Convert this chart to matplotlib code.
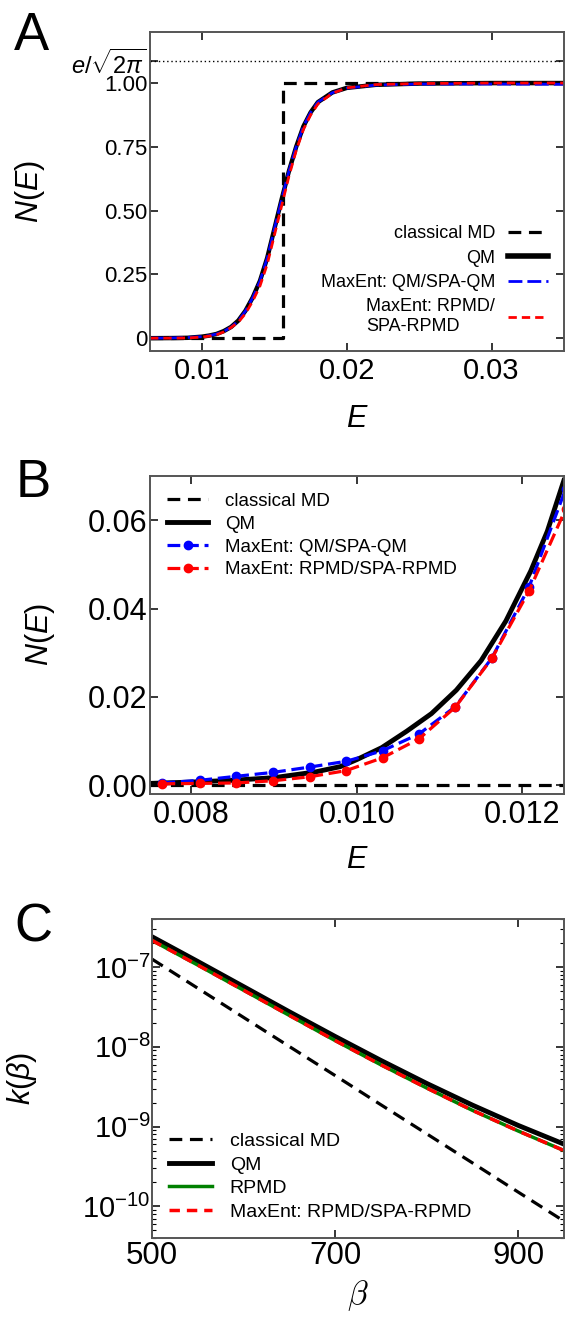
import matplotlib
matplotlib.use('Agg')
import numpy as np
import matplotlib.pyplot as plt
from matplotlib.lines import Line2D
from matplotlib.ticker import FixedLocator, FixedFormatter, LogLocator, NullFormatter

plt.rcParams['font.family'] = 'Liberation Sans'
plt.rcParams['mathtext.fontset'] = 'custom'
plt.rcParams['mathtext.rm'] = 'Liberation Sans'
plt.rcParams['mathtext.it'] = 'Liberation Sans:italic'
plt.rcParams['mathtext.bf'] = 'Liberation Sans:bold'

# ---- panel A : N(E) over the full range
E_A = [0.0064, 0.008, 0.009, 0.010, 0.0105, 0.011, 0.0115, 0.012, 0.0125, 0.013, 0.0135, 0.014,
       0.0145, 0.015, 0.0155, 0.016, 0.0165, 0.017, 0.0175, 0.018, 0.019, 0.020, 0.022, 0.025,
       0.030, 0.035]
qm_A = [0.0002, 0.0007, 0.0017, 0.0062, 0.0105, 0.0168, 0.028, 0.044, 0.069, 0.108, 0.16, 0.225,
        0.315, 0.43, 0.545, 0.655, 0.75, 0.83, 0.885, 0.925, 0.963, 0.981, 0.993, 0.998,
        1.0, 1.0]
maxent_qm_A = [0.0003, 0.0011, 0.0029, 0.0063, 0.0105, 0.0165, 0.027, 0.043, 0.068, 0.107, 0.159, 0.224,
               0.314, 0.43, 0.545, 0.655, 0.75, 0.83, 0.885, 0.925, 0.962, 0.980, 0.992, 0.996,
               0.996, 0.995]
maxent_rpmd_A = [0.0002, 0.0004, 0.001, 0.0045, 0.0085, 0.0135, 0.025, 0.042, 0.063, 0.097, 0.146, 0.205,
                 0.29, 0.405, 0.52, 0.635, 0.735, 0.818, 0.875, 0.918, 0.96, 0.981, 0.994, 0.998,
                 1.0, 1.0]
E_cl_A = [0.0064, 0.0156, 0.035]
cl_A = [0.0, 1.0, 1.0]
e_sqrt2pi = np.e / np.sqrt(2 * np.pi)

# ---- panel B : low-energy zoom
E_qm_B = [0.0075, 0.008, 0.0085, 0.009, 0.0095, 0.0098, 0.0100, 0.0103, 0.0106, 0.0109, 0.0112,
          0.0115, 0.0118, 0.0121, 0.0123, 0.0125]
qm_B = [0.0004, 0.0007, 0.0011, 0.0017, 0.003, 0.0042, 0.0058, 0.0085, 0.0122, 0.0162, 0.0215,
        0.0282, 0.0372, 0.0485, 0.0575, 0.069]
E_pts_B = [0.00765, 0.00810, 0.00854, 0.00899, 0.00943, 0.00987, 0.01031, 0.01075, 0.01119,
           0.01163, 0.01208, 0.01252]
maxent_qm_B = [0.0005, 0.0011, 0.0020, 0.0029, 0.0041, 0.0054, 0.0078, 0.0116, 0.0178, 0.0288,
               0.0449, 0.067]
maxent_rpmd_B = [0.0003, 0.0004, 0.0005, 0.0010, 0.0019, 0.0033, 0.0062, 0.0105, 0.0177, 0.0287,
                 0.0440, 0.0625]
E_cl_B = [0.0075, 0.0125]
cl_B = [0.0, 0.0]

# ---- panel C : rate constants
beta_C = [500, 550, 600, 650, 700, 750, 800, 850, 900, 950]
k_classical = [1.259e-7, 5.43e-8, 2.34e-8, 1.01e-8, 4.37e-9, 1.88e-9, 8.13e-10, 3.51e-10, 1.51e-10, 6.53e-11]
k_qm = [2.40e-7, 1.175e-7, 5.69e-8, 2.75e-8, 1.35e-8, 6.76e-9, 3.48e-9, 1.86e-9, 1.035e-9, 6.03e-10]
k_rpmd = [2.16e-7, 1.06e-7, 5.13e-8, 2.48e-8, 1.20e-8, 5.96e-9, 3.05e-9, 1.60e-9, 8.81e-10, 5.01e-10]
k_maxent_rpmd = [2.16e-7, 1.06e-7, 5.13e-8, 2.48e-8, 1.20e-8, 5.96e-9, 3.05e-9, 1.60e-9, 8.81e-10, 5.01e-10]

fig = plt.figure(figsize=(5.65, 13.22), dpi=100)
axA = fig.add_axes([0.2655, 0.7345, 0.7325, 0.2413])
axB = fig.add_axes([0.2655, 0.3994, 0.7325, 0.2405])
axC = fig.add_axes([0.2690, 0.0635, 0.7290, 0.2413])


def style(ax):
    for s in ax.spines.values():
        s.set_color('#555555')
        s.set_linewidth(1.4)
    ax.tick_params(which='both', direction='in', top=True, right=True, color='black')
    ax.tick_params(which='major', length=6, width=1.1)
    ax.tick_params(which='minor', length=3, width=0.8)


# panel A
axA.step(E_cl_A, cl_A, where='post', color='black', lw=2.3, ls=(0, (4, 2.4)))
axA.plot(E_A, qm_A, color='black', lw=3.2)
axA.plot(E_A, maxent_qm_A, color='blue', lw=2.0, ls=(0, (5, 1.8)))
axA.plot(E_A, maxent_rpmd_A, color='red', lw=2.0, ls=(0, (3, 1.8)))
axA.axhline(e_sqrt2pi, color='black', lw=1.0, ls=(0, (1, 2)))
axA.set_xlim(0.0064, 0.035)
axA.set_ylim(-0.05, 1.2)
style(axA)
axA.xaxis.set_major_locator(FixedLocator([0.01, 0.02, 0.03]))
axA.xaxis.set_major_formatter(FixedFormatter(['0.01', '0.02', '0.03']))
axA.yaxis.set_major_locator(FixedLocator([0, 0.25, 0.5, 0.75, 1.0, e_sqrt2pi]))
axA.yaxis.set_major_formatter(FixedFormatter(['0', '0.25', '0.50', '0.75', '1.00', r'$e/\sqrt{2\pi}$']))
axA.tick_params(axis='x', labelsize=21, pad=4)
axA.tick_params(axis='y', labelsize=16, pad=2)
axA.get_yticklabels()[-1].set_fontsize(17)
axA.set_xlabel('$E$', fontsize=22)
axA.set_ylabel('$N(E)$', fontsize=22)
axA.xaxis.set_label_coords(0.5, -0.165)
axA.yaxis.set_label_coords(-0.25, 0.5)

hA = [Line2D([], [], color='black', lw=2.3, ls=(0, (4, 2.4))),
      Line2D([], [], color='black', lw=4.0),
      Line2D([], [], color='blue', lw=2.0, ls=(0, (5, 1.8))),
      Line2D([], [], color='red', lw=2.0, ls=(0, (3, 1.8)))]
axA.legend(hA, ['classical MD', 'QM', 'MaxEnt: QM/SPA-QM', 'MaxEnt: RPMD/\nSPA-RPMD'],
           loc='lower right', bbox_to_anchor=(1.0, 0.0), frameon=False, markerfirst=False,
           fontsize=13, handlelength=2.2, handletextpad=0.7, labelspacing=0.4)

# panel B
axB.plot(E_cl_B, cl_B, color='black', lw=2.3, ls=(0, (4, 2.4)), label='classical MD')
axB.plot(E_qm_B, qm_B, color='black', lw=3.5, label='QM')
axB.plot(E_pts_B, maxent_qm_B, color='blue', lw=2.3, ls=(0, (4, 1.8)), marker='o', ms=6,
         label='MaxEnt: QM/SPA-QM')
axB.plot(E_pts_B, maxent_rpmd_B, color='red', lw=2.3, ls=(0, (4, 1.8)), marker='o', ms=6,
         label='MaxEnt: RPMD/SPA-RPMD')
axB.set_xlim(0.0075, 0.0125)
axB.set_ylim(-0.002, 0.07)
style(axB)
axB.xaxis.set_major_locator(FixedLocator([0.008, 0.010, 0.012]))
axB.xaxis.set_major_formatter(FixedFormatter(['0.008', '0.010', '0.012']))
axB.yaxis.set_major_locator(FixedLocator([0.0, 0.02, 0.04, 0.06]))
axB.yaxis.set_major_formatter(FixedFormatter(['0.00', '0.02', '0.04', '0.06']))
axB.tick_params(axis='x', labelsize=22, pad=4)
axB.tick_params(axis='y', labelsize=22, pad=2)
axB.set_xlabel('$E$', fontsize=22)
axB.set_ylabel('$N(E)$', fontsize=22)
axB.xaxis.set_label_coords(0.5, -0.16)
axB.yaxis.set_label_coords(-0.225, 0.5)
axB.legend(loc='upper left', frameon=False, fontsize=13.5, handlelength=2.2,
           handletextpad=0.9, labelspacing=0.3)

# panel C
axC.plot(beta_C, k_classical, color='black', lw=2.3, ls=(0, (4, 2.4)), label='classical MD')
axC.plot(beta_C, k_qm, color='black', lw=3.5, label='QM')
axC.plot(beta_C, k_rpmd, color='green', lw=2.5, label='RPMD')
axC.plot(beta_C, k_maxent_rpmd, color='red', lw=2.5, ls=(0, (3, 2)), label='MaxEnt: RPMD/SPA-RPMD')
axC.set_yscale('log')
axC.set_xlim(500, 950)
axC.set_ylim(4e-11, 4e-7)
style(axC)
axC.xaxis.set_major_locator(FixedLocator([500, 700, 900]))
axC.yaxis.set_major_locator(LogLocator(base=10, numticks=10))
axC.yaxis.set_minor_locator(LogLocator(base=10, subs=np.arange(2, 10), numticks=10))
axC.yaxis.set_minor_formatter(NullFormatter())
axC.tick_params(axis='x', labelsize=22.5, pad=2)
axC.tick_params(axis='y', labelsize=21, pad=1)
axC.set_xlabel(r'$\beta$', fontsize=24, math_fontfamily='cm')
axC.set_ylabel(r'$k(\beta)$', fontsize=22)
axC.xaxis.set_label_coords(0.5, -0.125)
axC.yaxis.set_label_coords(-0.275, 0.5)
axC.legend(loc='lower left', frameon=False, fontsize=14, handlelength=2.2,
           handletextpad=0.9, labelspacing=0.3)

fig.text(0.025, 1 - 50 / 1322, 'A', fontsize=38, va='baseline')
fig.text(0.028, 1 - 497 / 1322, 'B', fontsize=38, va='baseline')
fig.text(0.025, 1 - 942 / 1322, 'C', fontsize=38, va='baseline')

fig.savefig('out.png', dpi=100)
plt.close(fig)
